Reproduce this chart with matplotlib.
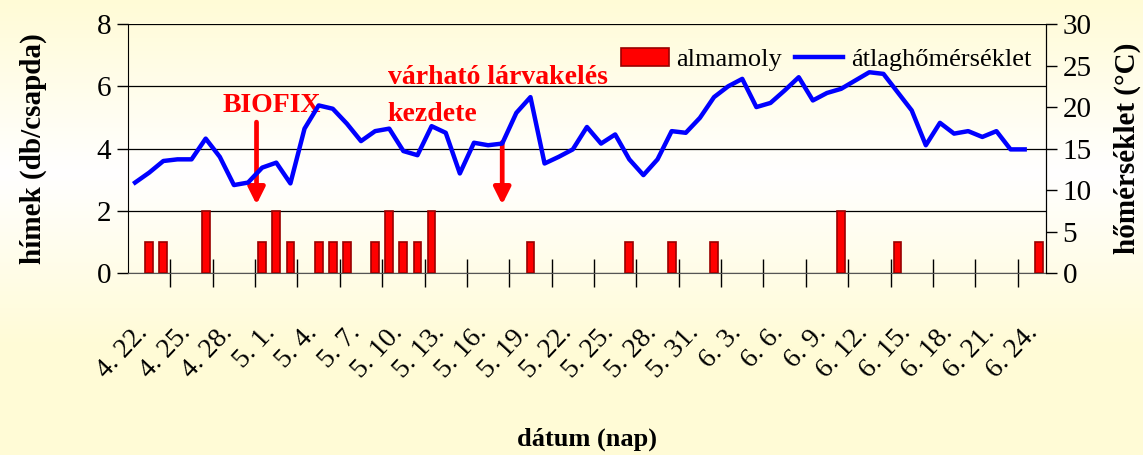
import numpy as np
import matplotlib
matplotlib.use("Agg")
from matplotlib import pyplot as plt
from matplotlib.patches import Patch
from matplotlib.lines import Line2D
import datetime as dt

plt.rcParams['font.family'] = ['Liberation Serif', 'DejaVu Serif']

# days from 4.22 to 6.25
start = dt.date(2000, 4, 22)
days = [start + dt.timedelta(days=i) for i in range(65)]
tick_labels = ["%d. %d." % (d.month, d.day) for d in days]

# male moths caught (db/csapda): day index -> count
moth_days = [1, 2, 5, 9, 10, 11, 13, 14, 15, 17, 18, 19, 20, 21, 28, 35, 38, 41, 50, 54, 64]
moth_vals = [1, 1, 2, 1, 2, 1, 1, 1, 1, 1, 2, 1, 1, 2, 1, 1, 1, 1, 2, 1, 1]

# daily mean temperature (°C)
temp = [10.9, 12.1, 13.5, 13.7, 13.7, 16.2, 14.0, 10.6, 10.9, 12.7,
        13.3, 10.8, 17.4, 20.2, 19.8, 18.0, 15.9, 17.1, 17.4, 14.7,
        14.2, 17.7, 16.9, 12.0, 15.7, 15.4, 15.6, 19.3, 21.2, 13.2,
        14.0, 14.9, 17.6, 15.6, 16.7, 13.7, 11.8, 13.7, 17.1, 16.9,
        18.7, 21.2, 22.5, 23.4, 20.0, 20.5, 22.0, 23.6, 20.8, 21.7,
        22.2, 23.2, 24.2, 24.0, 21.8, 19.6, 15.4, 18.1, 16.8, 17.1,
        16.4, 17.1, 14.9, 14.9]

moth = np.zeros(len(days))
moth[moth_days] = moth_vals
x = np.arange(len(days))

fig = plt.figure(figsize=(11.43, 4.55), dpi=100)

# pale yellow background gradient
bg = fig.add_axes([0, 0, 1, 1], zorder=-10)
t = np.linspace(0, 1, 256)
g = np.clip(np.abs(t - 0.62) / 0.38, 0, 1)
col = np.ones((256, 1, 3))
col[:, 0, 2] = 1 - 0.16 * g
col[:, 0, 1] = 1 - 0.015 * g
bg.imshow(col, aspect='auto', extent=[0, 1, 0, 1], origin='lower')
bg.axis('off')

ax = fig.add_axes([0.112, 0.4, 0.803, 0.547])
ax.patch.set_alpha(0)
ax.bar(x[moth > 0], moth[moth > 0], width=0.55, color='#FF0000',
       edgecolor='#990000', linewidth=1.2, zorder=3)
ax.set_ylim(0, 8)
ax.set_yticks([0, 2, 4, 6, 8])
ax.set_xlim(-0.5, len(days) - 0.5)
ax.yaxis.grid(True, color='black', lw=0.9)
ax.set_axisbelow(True)
ax.set_xticks(np.arange(0, len(days), 3))
ax.set_xticklabels(tick_labels[::3], rotation=47, ha='right', va='top',
                   rotation_mode='anchor', fontsize=20)
ax.set_xticks(np.arange(2.5, len(days), 3), minor=True)
ax.tick_params(axis='x', which='major', length=0, pad=34)
ax.tick_params(axis='x', which='minor', direction='inout', length=20, width=1, color='black')
ax.tick_params(axis='y', labelsize=21, direction='out', length=8, width=1, pad=4)
ax.spines['top'].set_visible(False)
ax.spines['bottom'].set_color('#555555')
ax.set_ylabel("hímek (db/csapda)", fontsize=21, fontweight='bold', labelpad=36)
ax.set_xlabel("dátum (nap)", fontsize=19, fontweight='bold', labelpad=32)

ax2 = ax.twinx()
ax2.plot(x[:len(temp)], temp, color='#0000FF', lw=3.2, zorder=4)
ax2.set_ylim(0, 30)
ax2.set_yticks(range(0, 31, 5))
ax2.tick_params(axis='y', labelsize=21, direction='out', length=8, width=1, pad=4)
ax2.spines['top'].set_visible(False)
ax2.spines['left'].set_visible(False)
ax2.spines['bottom'].set_visible(False)
ax2.set_ylabel("hőmérséklet (°C)", fontsize=21, fontweight='bold', labelpad=16)

# arrows and annotations
arrow = dict(arrowstyle='-|>,head_length=1.0,head_width=0.5',
             color='#FF0000', lw=3.4, shrinkA=0, shrinkB=0)
ax.annotate("", xy=(8.6, 2.2), xytext=(8.6, 4.85), arrowprops=arrow)
ax.text(9.7, 5.4, "BIOFIX", color='#FF0000', fontsize=20, fontweight='bold',
        ha='center', va='center')
ax.annotate("", xy=(26.0, 2.2), xytext=(26.0, 4.2), arrowprops=arrow)
ax.text(17.9, 6.3, "várható lárvakelés", color='#FF0000', fontsize=20,
        fontweight='bold', ha='left', va='center')
ax.text(17.9, 5.08, "kezdete", color='#FF0000', fontsize=20,
        fontweight='bold', ha='left', va='center')

handles = [Patch(facecolor='#FF0000', edgecolor='#990000', lw=1.2),
           Line2D([0], [0], color='#0000FF', lw=3.2)]
ax2.legend(handles, ["almamoly", "átlaghőmérséklet"], ncol=2, frameon=False,
           fontsize=19, loc='upper right', bbox_to_anchor=(1.01, 1.0),
           handlelength=1.8, handletextpad=0.3, columnspacing=0.5)

fig.savefig("out.png", dpi=100)
